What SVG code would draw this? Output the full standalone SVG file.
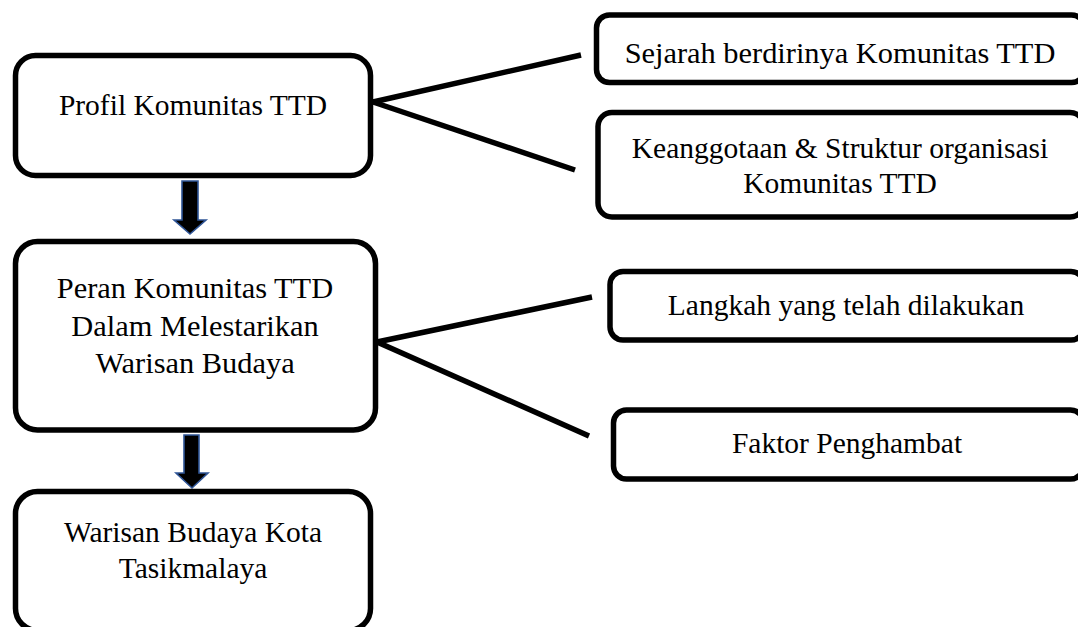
<svg xmlns="http://www.w3.org/2000/svg" width="1078" height="627" viewBox="0 0 1078 627">
<style>
.box{fill:#fff;stroke:#000;stroke-width:5.5}
.t{font-family:"Liberation Serif","Times New Roman",serif;font-size:29.5px;fill:#000;text-anchor:middle}
.big{font-size:30.4px}
.ln{stroke:#000;stroke-width:5.5;fill:none}
.ar{fill:#000;stroke:#2F5597;stroke-width:1.6}
</style>
<rect width="1078" height="627" fill="#fff"/>
<g id="connectors">
<line class="ln" x1="373" y1="102" x2="581" y2="55"/>
<line class="ln" x1="373" y1="102" x2="575" y2="170"/>
<line class="ln" x1="377" y1="342" x2="592" y2="297"/>
<line class="ln" x1="377" y1="342" x2="589" y2="436"/>
<polygon class="ar" points="182,181 198,181 198,220 206,220 190,234 174,220 182,220"/>
<polygon class="ar" points="184,435 199,435 199,473 208,473 192,488 176,473 184,473"/>
</g>
<g id="profil">
<rect class="box" x="15.5" y="55.5" width="355" height="120" rx="20"/>
<text class="t" x="193" y="115">Profil Komunitas TTD</text>
</g>
<g id="peran">
<rect class="box" x="15.5" y="241.5" width="360" height="188.5" rx="22"/>
<text class="t big" x="195" y="298">Peran Komunitas TTD</text>
<text class="t big" x="195" y="336">Dalam Melestarikan</text>
<text class="t big" x="195" y="373">Warisan Budaya</text>
</g>
<g id="warisan">
<rect class="box" x="15.5" y="491.5" width="355" height="139" rx="22"/>
<text class="t" x="193" y="542">Warisan Budaya Kota</text>
<text class="t" x="193" y="578">Tasikmalaya</text>
</g>
<g id="sejarah">
<rect class="box" x="596.5" y="15" width="488" height="67.5" rx="13"/>
<text class="t big" x="840" y="63">Sejarah berdirinya Komunitas TTD</text>
</g>
<g id="keanggotaan">
<rect class="box" x="598" y="112.5" width="486" height="104.5" rx="14"/>
<text class="t" x="840" y="158">Keanggotaan &amp; Struktur organisasi</text>
<text class="t" x="840" y="193">Komunitas TTD</text>
</g>
<g id="langkah">
<rect class="box" x="610" y="271.5" width="474" height="68.5" rx="13"/>
<text class="t" x="846" y="315">Langkah yang telah dilakukan</text>
</g>
<g id="faktor">
<rect class="box" x="613.5" y="410" width="470" height="69" rx="13"/>
<text class="t" x="847" y="453">Faktor Penghambat</text>
</g>
</svg>
